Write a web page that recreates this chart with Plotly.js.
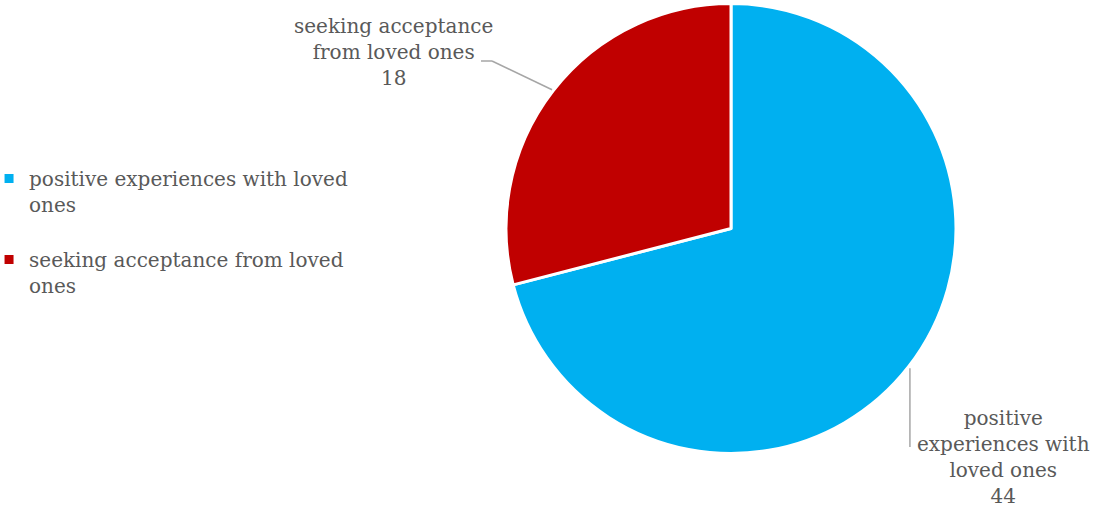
<!DOCTYPE html>
<html>
<head>
<meta charset="utf-8">
<script src="https://cdn.plot.ly/plotly-3.0.1.min.js"></script>
<style>html,body{margin:0;padding:0;background:#fff;}#chart{width:1096px;height:510px;}</style>
</head>
<body>
<div id="chart"></div>
<script>
const categories = ['positive experiences with loved ones', 'seeking acceptance from loved ones'];
const values = [44, 18];
const colors = ['#00B0F0', '#C00000'];
const legendLabels = ['positive experiences with loved<br>ones<br> ', 'seeking acceptance from loved<br>ones<br> '];
const dataLabelLines = [['positive', 'experiences with', 'loved ones'], ['seeking acceptance', 'from loved ones']];

const W = 1096, H = 510;
const FONT = 'DejaVu Serif, Cambria, serif';
const TXT = '#595959';
// pie geometry (pixels)
const pieLeft = 506, pieRight = 956, pieTop = 3, pieBottom = 454;
const cx = (pieLeft + pieRight) / 2, cy = (pieTop + pieBottom) / 2;
const r = Math.min(pieRight - pieLeft, pieBottom - pieTop) / 2;
const px = x => x / W, py = y => 1 - y / H;

const total = values.reduce((a, b) => a + b, 0);
let cum = 0;
const mids = values.map(v => { const m = (cum + v / 2) / total * 2 * Math.PI; cum += v; return m; });
const edge = i => [cx + r * Math.sin(mids[i]), cy - r * Math.cos(mids[i])];

const e0 = edge(0), e1 = edge(1);
const lineStyle = {color: '#A6A6A6', width: 1.5};
const shapes = [
  {type: 'line', xref: 'paper', yref: 'paper', x0: px(e0[0] + 1), y0: py(e0[1] + 2), x1: px(e0[0] + 1), y1: py(447), line: lineStyle},
  {type: 'line', xref: 'paper', yref: 'paper', x0: px(e1[0] - 1), y0: py(e1[1] - 1), x1: px(492), y1: py(61), line: lineStyle},
  {type: 'line', xref: 'paper', yref: 'paper', x0: px(492), y0: py(61), x1: px(481), y1: py(61), line: lineStyle}
];

const labelPos = [[1003, 457], [393, 52]];
const annotations = values.map((v, i) => ({
  xref: 'paper', yref: 'paper', x: px(labelPos[i][0]), y: py(labelPos[i][1]),
  xanchor: 'center', yanchor: 'middle', align: 'center', showarrow: false,
  text: dataLabelLines[i].join('<br>') + '<br>' + v,
  font: {family: FONT, size: 20, color: TXT}
}));

const trace = {
  type: 'pie', labels: legendLabels, values: values, sort: false, direction: 'clockwise', rotation: 0,
  marker: {colors: colors, line: {color: '#ffffff', width: 3}},
  textinfo: 'none', hovertext: categories, hoverinfo: 'text+value',
  domain: {x: [px(pieLeft), px(pieRight)], y: [py(pieBottom), py(pieTop)]}
};

const layout = {
  width: W, height: H, margin: {l: 0, r: 0, t: 0, b: 0, autoexpand: false},
  paper_bgcolor: '#fff', plot_bgcolor: '#fff',
  showlegend: true,
  legend: {x: -0.01, xanchor: 'left', y: py(159), yanchor: 'top', valign: 'top', font: {family: FONT, size: 20, color: TXT}, itemwidth: 30, tracegroupgap: 0},
  annotations: annotations, shapes: shapes
};
Plotly.newPlot('chart', [trace], layout, {displayModeBar: false, staticPlot: true});
</script>
</body>
</html>
